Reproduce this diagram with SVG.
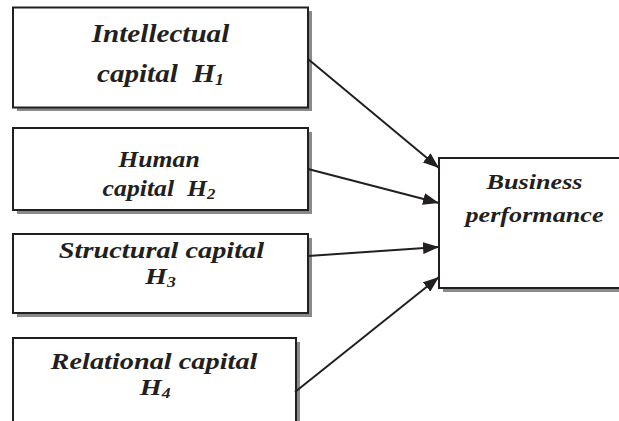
<svg xmlns="http://www.w3.org/2000/svg" width="619" height="421" viewBox="0 0 619 421">
<style>
.box{fill:#fff;stroke:#231f20;stroke-width:2}
.sh{fill:#8a8a8a}
.t{font-family:"Liberation Serif","Times New Roman",serif;font-weight:bold;font-style:italic;fill:#231f20;text-anchor:middle;white-space:pre}
.c{stroke:#231f20;stroke-width:2;fill:none}
</style>
<defs>
<marker id="ah" viewBox="0 0 16 12" refX="16" refY="6" markerWidth="16" markerHeight="12" markerUnits="userSpaceOnUse" orient="auto">
<path d="M0,0 L16,6 L0,12 Z" fill="#231f20"/>
</marker>
</defs>
<rect width="619" height="421" fill="#fff"/>
<g id="n1">
<rect class="sh" x="17" y="11" width="295" height="100"/>
<rect class="box" x="13" y="7.5" width="295" height="100"/>
<g transform="translate(160.5,0) scale(1.12,1)">
<text class="t" x="0" y="42" font-size="26">Intellectual</text>
<text class="t" x="0" y="82" font-size="26" xml:space="preserve">capital  H<tspan font-size="16" dy="3">1</tspan></text>
</g>
</g>
<g id="n2">
<rect class="sh" x="17" y="132" width="295" height="82"/>
<rect class="box" x="13" y="128" width="295" height="82"/>
<g transform="translate(159,0) scale(1.12,1)">
<text class="t" x="0" y="167" font-size="23">Human</text>
<text class="t" x="0" y="196" font-size="23" xml:space="preserve">capital  H<tspan font-size="15" dy="3">2</tspan></text>
</g>
</g>
<g id="n3">
<rect class="sh" x="17" y="238" width="295" height="79"/>
<rect class="box" x="13" y="234" width="295" height="79"/>
<g transform="translate(161.5,0) scale(1.18,1)">
<text class="t" x="0" y="258" font-size="24">Structural capital</text>
<text class="t" x="-1" y="284" font-size="24">H<tspan font-size="15" dy="3">3</tspan></text>
</g>
</g>
<g id="n4">
<rect class="sh" x="17" y="342" width="283" height="90"/>
<rect class="box" x="13" y="338" width="283" height="90"/>
<g transform="translate(154,0) scale(1.18,1)">
<text class="t" x="0" y="369" font-size="24">Relational capital</text>
<text class="t" x="1" y="395" font-size="24">H<tspan font-size="15" dy="3">4</tspan></text>
</g>
</g>
<g id="n5">
<rect class="sh" x="443" y="162" width="190" height="130"/>
<rect class="box" x="439" y="158" width="190" height="130"/>
<g transform="translate(534.5,0) scale(1.19,1)">
<text class="t" x="0" y="189" font-size="22">Business</text>
<text class="t" x="0" y="222" font-size="22">performance</text>
</g>
</g>
<g id="connectors">
<line class="c" x1="308" y1="59" x2="439" y2="168" marker-end="url(#ah)"/>
<line class="c" x1="308" y1="169" x2="439" y2="203" marker-end="url(#ah)"/>
<line class="c" x1="308" y1="256" x2="439" y2="247" marker-end="url(#ah)"/>
<line class="c" x1="295" y1="392" x2="439" y2="277" marker-end="url(#ah)"/>
</g>
</svg>
